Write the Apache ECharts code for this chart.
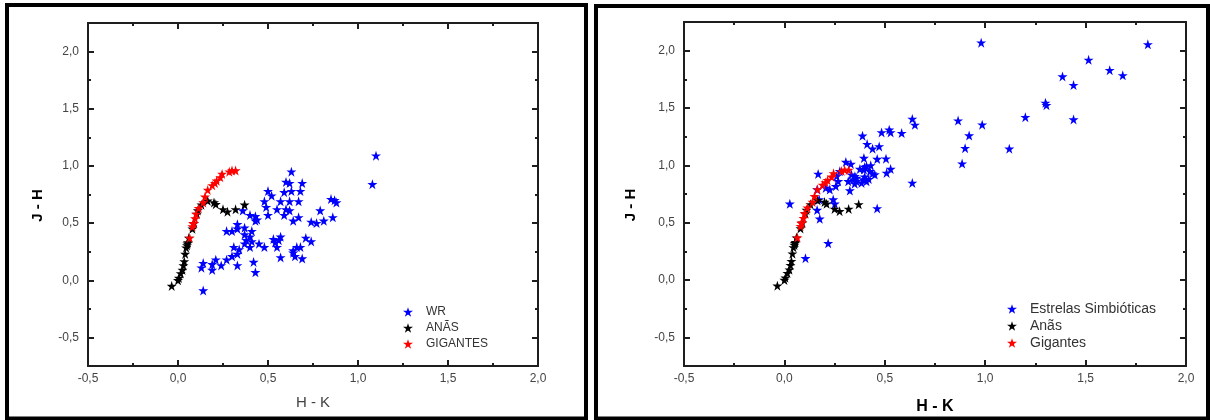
<!DOCTYPE html>
<html><head><meta charset="utf-8">
<script src="https://cdn.jsdelivr.net/npm/echarts@6/dist/echarts.min.js"></script>
<style>html,body{margin:0;padding:0;background:#fff}#c{width:1210px;height:420px}</style>
</head><body><div id="c"></div>
<script>
// ---- data ----
const xTicks = [-0.5, 0, 0.5, 1, 1.5, 2];
const yTicks = [-0.5, 0, 0.5, 1, 1.5, 2];
const yMinorTicks = [-0.25, 0.25, 0.75, 1.25, 1.75];
const leftNames = ['WR', 'ANÃS', 'GIGANTES'];
const rightNames = ['Estrelas Simbióticas', 'Anãs', 'Gigantes'];
const axisTitleX = 'H - K';
const axisTitleY = 'J - H';

// [H-K, J-H]
const wrPoints = [
  [1.10,1.09],[1.08,0.84],[0.63,0.95],[0.60,0.86],[0.62,0.85],[0.69,0.85],[0.50,0.78],[0.59,0.77],
  [0.63,0.78],[0.68,0.78],[0.52,0.74],[0.57,0.69],[0.62,0.69],[0.67,0.69],[0.48,0.69],[0.49,0.64],
  [0.55,0.62],[0.60,0.62],[0.62,0.61],[0.50,0.57],[0.40,0.57],[0.43,0.56],[0.44,0.53],[0.43,0.52],
  [0.64,0.52],[0.67,0.55],[0.59,0.57],[0.85,0.71],[0.87,0.70],[0.88,0.68],[0.79,0.61],[0.74,0.51],
  [0.77,0.50],[0.81,0.52],[0.86,0.55],[0.33,0.49],[0.27,0.43],[0.30,0.43],[0.33,0.45],[0.37,0.46],
  [0.41,0.43],[0.37,0.40],[0.40,0.38],[0.38,0.35],[0.37,0.32],[0.41,0.34],[0.40,0.29],[0.45,0.32],
  [0.48,0.29],[0.53,0.36],[0.56,0.35],[0.57,0.38],[0.55,0.29],[0.54,0.33],[0.57,0.20],[0.31,0.29],
  [0.34,0.27],[0.33,0.23],[0.30,0.21],[0.27,0.18],[0.24,0.13],[0.19,0.14],[0.19,0.09],[0.14,0.15],
  [0.13,0.11],[0.21,0.18],[0.33,0.13],[0.42,0.16],[0.43,0.07],[0.14,-0.09],[0.64,0.26],[0.66,0.29],
  [0.68,0.29],[0.71,0.37],[0.74,0.34],[0.69,0.19],[0.64,0.24],[0.65,0.21],[0.36,0.61]
];
const symbioticPoints = [
  [0.98,2.07],[1.81,2.055],[1.515,1.92],[1.62,1.83],[1.685,1.785],[1.385,1.775],[1.44,1.70],
  [1.30,1.545],[1.305,1.525],[1.20,1.42],[1.44,1.40],[0.865,1.39],[0.985,1.355],[0.92,1.26],
  [0.90,1.15],[1.12,1.145],[0.885,1.015],
  [0.637,1.405],[0.65,1.353],[0.389,1.258],[0.484,1.287],[0.522,1.31],[0.529,1.287],[0.584,1.281],
  [0.412,1.185],[0.439,1.145],[0.472,1.165],[0.396,1.064],[0.462,1.055],[0.506,1.058],[0.306,1.029],
  [0.331,1.012],[0.376,0.968],[0.396,0.963],[0.409,0.992],[0.426,0.948],[0.439,0.928],[0.509,0.934],
  [0.529,0.968],[0.637,0.847],[0.334,0.919],[0.343,0.876],[0.359,0.861],[0.318,0.861],[0.351,0.905],
  [0.393,0.876],[0.409,0.861],[0.384,0.847],[0.26,0.905],[0.268,0.861],[0.256,0.818],[0.326,0.78],
  [0.206,0.803],[0.226,0.789],[0.168,0.925],[0.163,0.789],[0.173,0.702],[0.243,0.702],[0.251,0.665],
  [0.163,0.61],[0.176,0.534],[0.027,0.665],[0.218,0.32],[0.105,0.19],[0.462,0.624],[0.276,0.948],
  [0.36,0.89],[0.40,0.90],[0.42,0.88],[0.35,0.84],[0.40,0.985],[0.43,1.0],[0.45,0.92]
];
const dwarfPoints = [
  [-0.035,-0.05],[0.0,0.0],[0.005,0.02],[0.015,0.06],[0.025,0.09],[0.03,0.13],[0.035,0.165],
  [0.04,0.23],[0.045,0.285],[0.05,0.305],[0.052,0.32],[0.055,0.33],[0.06,0.37],[0.08,0.45],
  [0.09,0.50],[0.105,0.58],[0.11,0.61],[0.13,0.66],[0.165,0.695],[0.20,0.68],[0.21,0.665],
  [0.25,0.62],[0.275,0.60],[0.32,0.62],[0.37,0.66]
];
const giantPoints = [
  [0.065,0.37],[0.08,0.47],[0.085,0.495],[0.085,0.50],[0.095,0.54],[0.10,0.58],[0.115,0.63],
  [0.14,0.68],[0.15,0.73],[0.165,0.79],[0.19,0.83],[0.205,0.85],[0.215,0.87],[0.235,0.90],
  [0.245,0.93],[0.285,0.95],[0.30,0.96],[0.32,0.96]
];

// ---- styling ----
const FONT = '"Liberation Sans", Arial, sans-serif';
const STAR = 'path://M50,0L61.2,34.5L97.6,34.5L68.2,55.9L79.4,90.5L50,69.1L20.6,90.5L31.8,55.9L2.4,34.5L38.8,34.5Z';
const COLORS = ['#0000ff', '#000000', '#ff0000'];
const LINE = '#1e1e1e';
const fmt = v => v.toFixed(1).replace('.', ',');

const panels = [
  { grid: { left: 88, top: 23, width: 450, height: 343 }, names: leftNames, main: wrPoints,
    xName: { color: '#444', fontWeight: 'normal', fontSize: 15, gap: 29 },
    yName: { color: '#000', fontWeight: 'bold', fontSize: 15, gap: 43 },
    legend: { left: 398, top: 301, fontSize: 12, gap: 4 } },
  { grid: { left: 684, top: 22, width: 502, height: 345 }, names: rightNames, main: symbioticPoints,
    xName: { color: '#000', fontWeight: 'bold', fontSize: 16, gap: 33 },
    yName: { color: '#000', fontWeight: 'bold', fontSize: 15, gap: 46 },
    legend: { left: 1002, top: 297, fontSize: 14, gap: 3 } }
];

const grids = [], xAxes = [], yAxes = [], series = [], legends = [];
panels.forEach((p, i) => {
  grids.push(Object.assign({ containLabel: false }, p.grid));
  const tickStyle = { color: LINE, width: 2 };
  const xBase = {
    gridIndex: i, type: 'value', min: xTicks[0], max: xTicks[xTicks.length - 1], interval: 0.5,
    axisLine: { show: true, onZero: false, lineStyle: { color: LINE, width: 2 } },
    axisTick: { show: true, inside: true, length: 6, lineStyle: tickStyle },
    minorTick: { show: true, splitNumber: 2, length: 3, lineStyle: tickStyle },
    splitLine: { show: false }
  };
  xAxes.push(Object.assign({}, xBase, {
    position: 'bottom',
    axisLabel: { formatter: fmt, margin: 7, color: '#444', fontSize: 12, fontFamily: FONT },
    name: axisTitleX, nameLocation: 'middle', nameGap: p.xName.gap,
    nameTextStyle: { color: p.xName.color, fontWeight: p.xName.fontWeight, fontSize: p.xName.fontSize, fontFamily: FONT }
  }));
  xAxes.push(Object.assign({}, xBase, { position: 'top', axisLabel: { show: false } }));
  const yBase = {
    gridIndex: i, type: 'value', min: -0.75, max: 2.25,
    axisLine: { show: true, onZero: false, lineStyle: { color: LINE, width: 2 } },
    splitLine: { show: false }
  };
  const yMajor = { axisTick: { show: true, inside: true, length: 6, lineStyle: tickStyle, customValues: yTicks } };
  const yMinor = { axisTick: { show: true, inside: true, length: 3, lineStyle: tickStyle, customValues: yMinorTicks }, axisLabel: { show: false } };
  const yIdx0 = yAxes.length;
  yAxes.push(Object.assign({}, yBase, yMajor, {
    position: 'left',
    axisLabel: { customValues: yTicks, formatter: fmt, margin: 9, color: '#444', fontSize: 12, fontFamily: FONT },
    name: axisTitleY, nameLocation: 'middle', nameGap: p.yName.gap,
    nameTextStyle: { color: p.yName.color, fontWeight: p.yName.fontWeight, fontSize: p.yName.fontSize, fontFamily: FONT, padding: [0, 22, 0, 0] }
  }));
  yAxes.push(Object.assign({}, yBase, yMinor, { position: 'left' }));
  yAxes.push(Object.assign({}, yBase, yMajor, { position: 'right', axisLabel: { show: false } }));
  yAxes.push(Object.assign({}, yBase, yMinor, { position: 'right' }));

  const sets = [p.main, dwarfPoints, giantPoints];
  sets.forEach((d, k) => {
    series.push({
      type: 'scatter', name: p.names[k], xAxisIndex: i * 2, yAxisIndex: yIdx0,
      data: d, symbol: STAR, symbolSize: 10, itemStyle: { color: COLORS[k], opacity: 1 },
      z: 2 + k, emphasis: { disabled: true }
    });
  });
  legends.push({
    data: p.names.map(n => ({ name: n, icon: STAR })), orient: 'vertical',
    left: p.legend.left, top: p.legend.top, itemWidth: 10, itemHeight: 10, itemGap: p.legend.gap,
    selectedMode: false,
    textStyle: { fontSize: p.legend.fontSize, color: '#333', fontFamily: FONT, padding: [0, 0, 0, 8] }
  });
});

const chart = echarts.init(document.getElementById('c'), null, { renderer: 'canvas' });
chart.setOption({
  animation: false,
  backgroundColor: '#ffffff',
  grid: grids, xAxis: xAxes, yAxis: yAxes, series: series, legend: legends,
  graphic: [
    { type: 'rect', shape: { x: 7, y: 5, width: 579, height: 413.5 }, style: { fill: 'none', stroke: '#000', lineWidth: 4 }, silent: true },
    { type: 'rect', shape: { x: 596, y: 6, width: 612, height: 412.5 }, style: { fill: 'none', stroke: '#000', lineWidth: 4 }, silent: true }
  ]
});
</script></body></html>
